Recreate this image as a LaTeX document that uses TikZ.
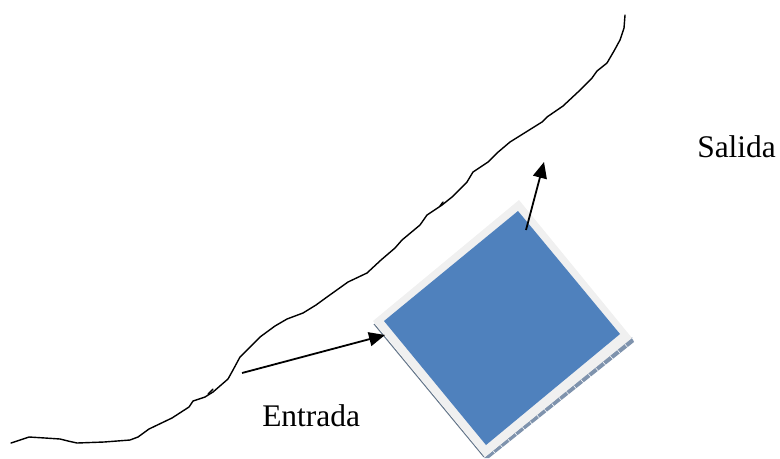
\documentclass[tikz,border=0pt]{standalone}
\usepackage{fontspec}
\setmainfont{Liberation Serif}
\usetikzlibrary{arrows.meta,calc}
\definecolor{panelblue}{HTML}{4F81BD}
\definecolor{framegray}{HTML}{F0F0F0}
\definecolor{edgeblue}{HTML}{7F93AD}
\tikzset{
  shore/.style={draw=black,line width=1.05pt,line join=round,line cap=round},
  flow/.style={draw=black,line width=1.35pt,-{Triangle[length=12pt,width=10.5pt]},shorten >=0pt},
  lbl/.style={font=\fontsize{23.6pt}{26pt}\selectfont,inner sep=0pt,text=black}
}
\begin{document}
\begin{tikzpicture}[x=0.75pt,y=-0.75pt]
\useasboundingbox (0,0) rectangle (780,458);
% hatched base strip and side edge
\fill[edgeblue] (632,337) -- (634,342) -- (489,458) -- (484,458) -- cycle;
\foreach \t in {0,0.05,...,1.0}{
  \draw[white,line width=0.4pt] ($(632,338)!\t!(486,457)$) -- ++(3,3.5);
}
\draw[edgeblue!80!black,line width=0.8pt] (374,324) -- (484,457);
% frame and panel
\fill[framegray] (519,200) -- (632,338) -- (485,457) -- (373,321) -- cycle;
\fill[panelblue] (518,211) -- (620,334) -- (486,445) -- (384,321) -- cycle;
% shoreline
\draw[shore] (11,443) -- (29,437) -- (45,438) -- (60,439) -- (68,441) -- (77,443) -- (104,442) -- (130,440) -- (138,437) -- (149,429) -- (172,418) -- (189,407) -- (193,401) -- (205,397) -- (213,392) -- (228,379) -- (233,370) -- (240,357) -- (248,349) -- (260,337) -- (275,326) -- (287,319) -- (303,313) -- (316,305) -- (327,297) -- (348,282) -- (367,273) -- (381,260) -- (395,248) -- (402,240) -- (420,225) -- (427,215) -- (442,205) -- (452,197) -- (467,182) -- (473,172) -- (488,162) -- (497,153) -- (510,142) -- (526,132) -- (542,122) -- (547,117) -- (563,106) -- (578,92) -- (592,78) -- (597,71) -- (607,63) -- (614,51) -- (620,40) -- (624,28) -- (625,15);
\draw[shore] (208,394) -- (213,389);
\draw[shore] (440,206) -- (443,202);
% arrows
\coordinate (entradaA) at (242,373);
\coordinate (entradaB) at (385,335);
\coordinate (salidaA) at (526,230);
\coordinate (salidaB) at (544,162);
\draw[flow] (entradaA) -- (entradaB);
\draw[flow] (salidaA) -- (salidaB);
% labels
\node[lbl,anchor=base west] (entrada) at (262,426) {Entrada};
\node[lbl,anchor=base west] (salida) at (697,157) {Salida};
\end{tikzpicture}
\end{document}
